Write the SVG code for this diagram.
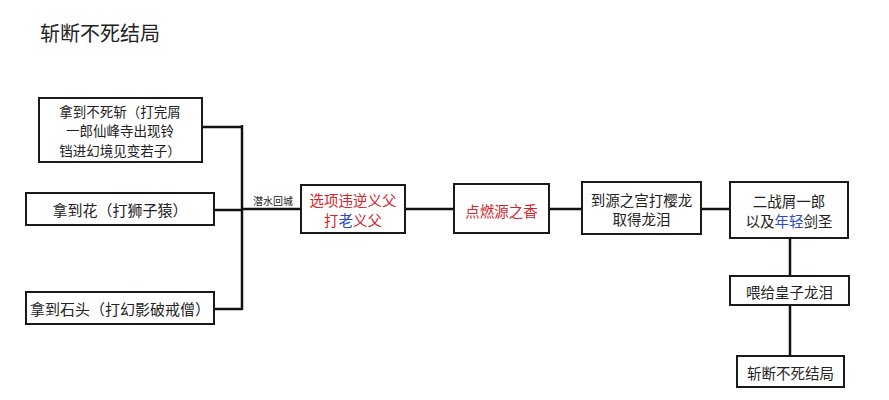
<svg xmlns="http://www.w3.org/2000/svg" width="889" height="400" viewBox="0 0 889 400">
<style>
.box{fill:#fff;stroke:#1a1a1a;stroke-width:2}
.ln{stroke:#111;stroke-width:2.5;fill:none}
text{font-family:"Noto Sans CJK SC","Noto Sans",sans-serif;fill:#222;text-anchor:middle;dominant-baseline:central}
.t15{font-size:15px}
.t14{font-size:14.5px}
.r{fill:#d3242c}
.b{fill:#2a4bc8}
</style>
<rect width="889" height="400" fill="#fff"/>
<text x="40" y="32" style="font-size:20px;text-anchor:start">斩断不死结局</text>
<g id="connectors">
<polyline class="ln" points="202,127 242,127"/>
<polyline class="ln" points="214,210 242,210"/>
<polyline class="ln" points="214,309 242,309"/>
<polyline class="ln" points="242,125 242,310"/>
<polyline class="ln" points="242,209 301,209"/>
<text x="273" y="200" style="font-size:10px">潜水回城</text>
<polyline class="ln" points="405,209 454,209"/>
<polyline class="ln" points="549,209 582,209"/>
<polyline class="ln" points="701,209 730,209"/>
<polyline class="ln" points="790,238 790,276"/>
<polyline class="ln" points="790,305 790,356"/>
</g>
<g id="n1">
<rect class="box" x="39" y="98" width="163" height="64"/>
<text x="120" y="110.500" style="font-size:13.500px">拿到不死斩（打完屑</text>
<text x="120" y="130.200" style="font-size:13.500px">一郎仙峰寺出现铃</text>
<text x="120" y="149.900" style="font-size:13.500px">铛进幻境见变若子）</text>
</g>
<g id="n2">
<rect class="box" x="26" y="193" width="188" height="32"/>
<text class="t15" x="120" y="209">拿到花（打狮子猿）</text>
</g>
<g id="n3">
<rect class="box" x="26" y="292" width="188" height="32"/>
<text class="t15" x="120" y="308">拿到石头（打幻影破戒僧）</text>
</g>
<g id="n4">
<rect class="box" x="301" y="185" width="104" height="48"/>
<text class="t14 r" x="353" y="199">选项违逆义父</text>
<text class="t14" x="353" y="219"><tspan class="r">打</tspan><tspan class="b">老</tspan><tspan class="r">义父</tspan></text>
</g>
<g id="n5">
<rect class="box" x="454" y="184" width="95" height="49"/>
<text class="t14 r" x="501.500" y="210">点燃源之香</text>
</g>
<g id="n6">
<rect class="box" x="582" y="182" width="119" height="52"/>
<text class="t14" x="641.500" y="199">到源之宫打樱龙</text>
<text class="t14" x="641.500" y="218">取得龙泪</text>
</g>
<g id="n7">
<rect class="box" x="730" y="182" width="118" height="56"/>
<text class="t14" x="789" y="200">二战屑一郎</text>
<text class="t14" x="789" y="220">以及<tspan class="b">年轻</tspan>剑圣</text>
</g>
<g id="n8">
<rect class="box" x="730" y="276" width="119" height="29"/>
<text class="t14" x="789.500" y="291">喂给皇子龙泪</text>
</g>
<g id="n9">
<rect class="box" x="737" y="356" width="107" height="31"/>
<text class="t14" x="790.500" y="372">斩断不死结局</text>
</g>
</svg>
